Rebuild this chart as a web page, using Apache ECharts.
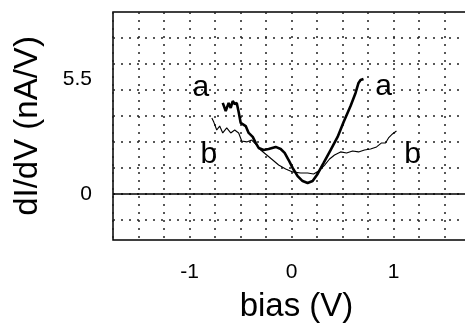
<!DOCTYPE html>
<html>
<head>
<meta charset="utf-8">
<script src="https://cdn.jsdelivr.net/npm/echarts@6/dist/echarts.min.js"></script>
<style>
  html, body { margin: 0; padding: 0; background: #fff; }
  #chart { width: 465px; height: 323px; }
</style>
</head>
<body>
<div id="chart"></div>
<script>
// curve a (thick)
const aBias = [-0.674, -0.645, -0.616, -0.596, -0.576, -0.557, -0.537, -0.518, -0.498, -0.449,
  -0.420, -0.380, -0.351, -0.322, -0.273, -0.224, -0.155, -0.106, -0.067, -0.028,
  0.011, 0.060, 0.109, 0.158, 0.207, 0.256, 0.315, 0.383, 0.452, 0.511,
  0.579, 0.628, 0.657, 0.677, 0.706]
const aDidv = [4.37, 3.98, 4.37, 4.13, 4.46, 4.32, 4.37, 3.93, 3.41, 3.26,
  2.93, 2.74, 2.45, 2.21, 2.11, 2.16, 2.26, 2.16, 1.97, 1.63,
  1.25, 0.86, 0.62, 0.53, 0.62, 0.96, 1.49, 2.11, 2.74, 3.45,
  4.22, 4.85, 5.33, 5.47, 5.52]

// curve b (thin)
const bBias = [-0.781, -0.762, -0.733, -0.704, -0.674, -0.635, -0.596, -0.557, -0.518, -0.488,
  -0.439, -0.390, -0.351, -0.302, -0.243, -0.184, -0.126, -0.057, 0.011, 0.090,
  0.158, 0.217, 0.266, 0.325, 0.373, 0.422, 0.481, 0.540, 0.599, 0.657,
  0.716, 0.775, 0.834, 0.883, 0.922, 0.951, 0.990, 1.029]
const bDidv = [3.65, 3.45, 3.07, 3.26, 2.93, 3.17, 2.93, 3.07, 2.93, 2.54,
  2.50, 2.59, 2.40, 2.11, 1.87, 1.63, 1.39, 1.20, 1.06, 1.01,
  1.01, 0.96, 1.10, 1.39, 1.68, 1.87, 2.02, 1.97, 2.06, 2.02,
  2.11, 2.16, 2.26, 2.45, 2.45, 2.69, 2.88, 3.02]

const xTicks = [-1, 0, 1]
const yTicks = [0, 5.5]
const yGrid = [-1.25, 0, 1.25, 2.5, 3.75, 5, 6.25, 7.5]

const font = 'Liberation Sans'
const dotted = { color: '#222', width: 1.5, type: [2, 6] }

const zip = (xs, ys) => xs.map((x, i) => [x, ys[i]])

// letters next to the curves, in data units
const tagStyle = { show: true, position: 'inside', color: '#000', fontSize: 30, fontFamily: font }
const tags = (list) => ({
  symbol: 'circle',
  symbolSize: 0,
  label: tagStyle,
  data: list.map(t => ({ coord: [t[0], t[1]], label: { formatter: t[2] } }))
})

const chart = echarts.init(document.getElementById('chart'))
chart.setOption({
  animation: false,
  grid: {
    left: 113, right: -5, top: 12, bottom: 83,
    outerBoundsMode: 'none',
    containLabel: false,
    show: true, borderColor: '#000', borderWidth: 1.5
  },
  xAxis: {
    type: 'value',
    min: -1.75, max: 1.75, interval: 0.25,
    name: 'bias (V)',
    nameLocation: 'middle',
    nameGap: 50,
    nameTextStyle: { fontSize: 33, color: '#000', fontFamily: font, padding: [0, 0, 0, 10] },
    axisLine: { show: false },
    axisTick: { show: false },
    axisLabel: { customValues: xTicks, fontSize: 21, color: '#000', fontFamily: font, margin: 22 },
    splitLine: { show: true, lineStyle: dotted }
  },
  yAxis: {
    type: 'value',
    min: -2.207, max: 8.733,
    name: 'dI/dV (nA/V)',
    nameLocation: 'middle',
    nameGap: 69,
    nameTextStyle: { fontSize: 33, color: '#000', fontFamily: font },
    axisLine: { show: false },
    axisTick: { show: false, customValues: yGrid },
    axisLabel: { customValues: yTicks, fontSize: 21, color: '#000', fontFamily: font, margin: 21 },
    splitLine: { show: true, lineStyle: dotted }
  },
  series: [
    {
      type: 'line',
      data: zip(aBias, aDidv),
      showSymbol: false,
      lineStyle: { color: '#000', width: 2.6 },
      markLine: {
        silent: true,
        symbol: 'none',
        label: { show: false },
        lineStyle: { color: '#000', width: 1.5, type: 'solid' },
        data: [{ yAxis: 0 }]
      },
      markPoint: tags([[-0.889, 5.09, 'a'], [0.902, 5.13, 'a']])
    },
    {
      type: 'line',
      data: zip(bBias, bDidv),
      showSymbol: false,
      lineStyle: { color: '#000', width: 1.1 },
      markPoint: tags([[-0.811, 1.87, 'b'], [1.186, 1.87, 'b']])
    }
  ]
})
</script>
</body>
</html>
